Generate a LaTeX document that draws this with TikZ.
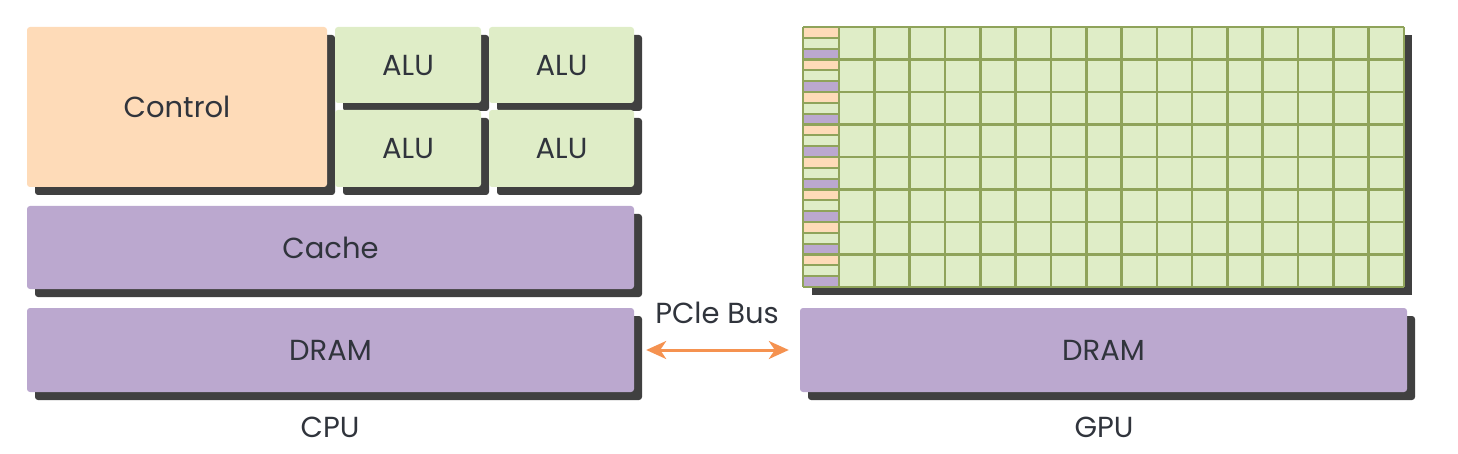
\documentclass[tikz,border=0pt]{standalone}
\usepackage{fontspec}
\setmainfont{Poppins}
\usetikzlibrary{shadows,arrows.meta}
\definecolor{ctrl}{HTML}{FEDBB8}
\definecolor{alu}{HTML}{DFEDC7}
\definecolor{mem}{HTML}{BBA8CF}
\definecolor{shd}{HTML}{404040}
\definecolor{grd}{HTML}{8FA35A}
\definecolor{txt}{HTML}{30343C}
\definecolor{bus}{HTML}{F59250}
\begin{document}
\begin{tikzpicture}[x=1pt,y=-1pt,
  lbl/.style={text=txt, font=\fontsize{29}{34}\selectfont, inner sep=0pt},
  blk/.style={lbl, rectangle, rounded corners=3pt,
    drop shadow={shadow xshift=8pt, shadow yshift=-8pt, fill=shd, opacity=1}},
  ctrlbox/.style={blk, fill=ctrl},
  alubox/.style={blk, fill=alu},
  membox/.style={blk, fill=mem},
  gridline/.style={draw=grd, line width=2.6pt},
  busarrow/.style={draw=bus, line width=3pt, {Stealth[length=20pt,width=18pt,inset=6pt]}-{Stealth[length=20pt,width=18pt,inset=6pt]}}]
\useasboundingbox (0,0) rectangle (1458,454);
% CPU
\node[ctrlbox, minimum width=300pt, minimum height=160pt] (control) at (177,107) {Control};
\node[alubox, minimum width=146pt, minimum height=76pt] (alu1) at (408,65) {ALU};
\node[alubox, minimum width=145pt, minimum height=76pt] (alu2) at (561.5,65) {ALU};
\node[alubox, minimum width=146pt, minimum height=77pt] (alu3) at (408,148.5) {ALU};
\node[alubox, minimum width=145pt, minimum height=77pt] (alu4) at (561.5,148.5) {ALU};
\node[membox, minimum width=607pt, minimum height=83pt] (cache) at (330.5,247.5) {Cache};
\node[membox, minimum width=607pt, minimum height=84pt] (cpudram) at (330.5,350) {DRAM};
\node[lbl] (cpu) at (330,427) {CPU};
% GPU
\node[membox, minimum width=607pt, minimum height=84pt] (gpudram) at (1103.5,350) {DRAM};
\node[lbl] (gpu) at (1104,427) {GPU};
% GPU grid
\fill[shd] (812,35) rectangle (1412,295);
\fill[alu] (803,27) rectangle (1404,287);
\foreach \r in {0,...,7} {
  \pgfmathsetmacro{\ya}{27+\r*32.5}
  \pgfmathsetmacro{\yb}{\ya+32.5/3}
  \pgfmathsetmacro{\yc}{\ya+2*32.5/3}
  \pgfmathsetmacro{\yd}{\ya+32.5}
  \fill[ctrl] (803,\ya) rectangle (839,\yb);
  \fill[mem] (803,\yc) rectangle (839,\yd);
  \draw[gridline, line width=2.2pt] (803,\yb) -- (839,\yb) (803,\yc) -- (839,\yc);
}
\foreach \r in {0,...,8} {
  \draw[gridline] (803,27+\r*32.5) -- (1404,27+\r*32.5);
}
\draw[gridline] (803,27) -- (803,287);
\foreach \c in {0,...,16} {
  \draw[gridline] (839+\c*35.3125,27) -- (839+\c*35.3125,287);
}
\coordinate (gridtop) at (1103.5,27);
% bus
\node[lbl] (pcie) at (717,313) {PCle Bus};
\draw[busarrow, shorten <=12pt, shorten >=11pt] (cpudram.east) -- (gpudram.west);
\end{tikzpicture}
\end{document}
